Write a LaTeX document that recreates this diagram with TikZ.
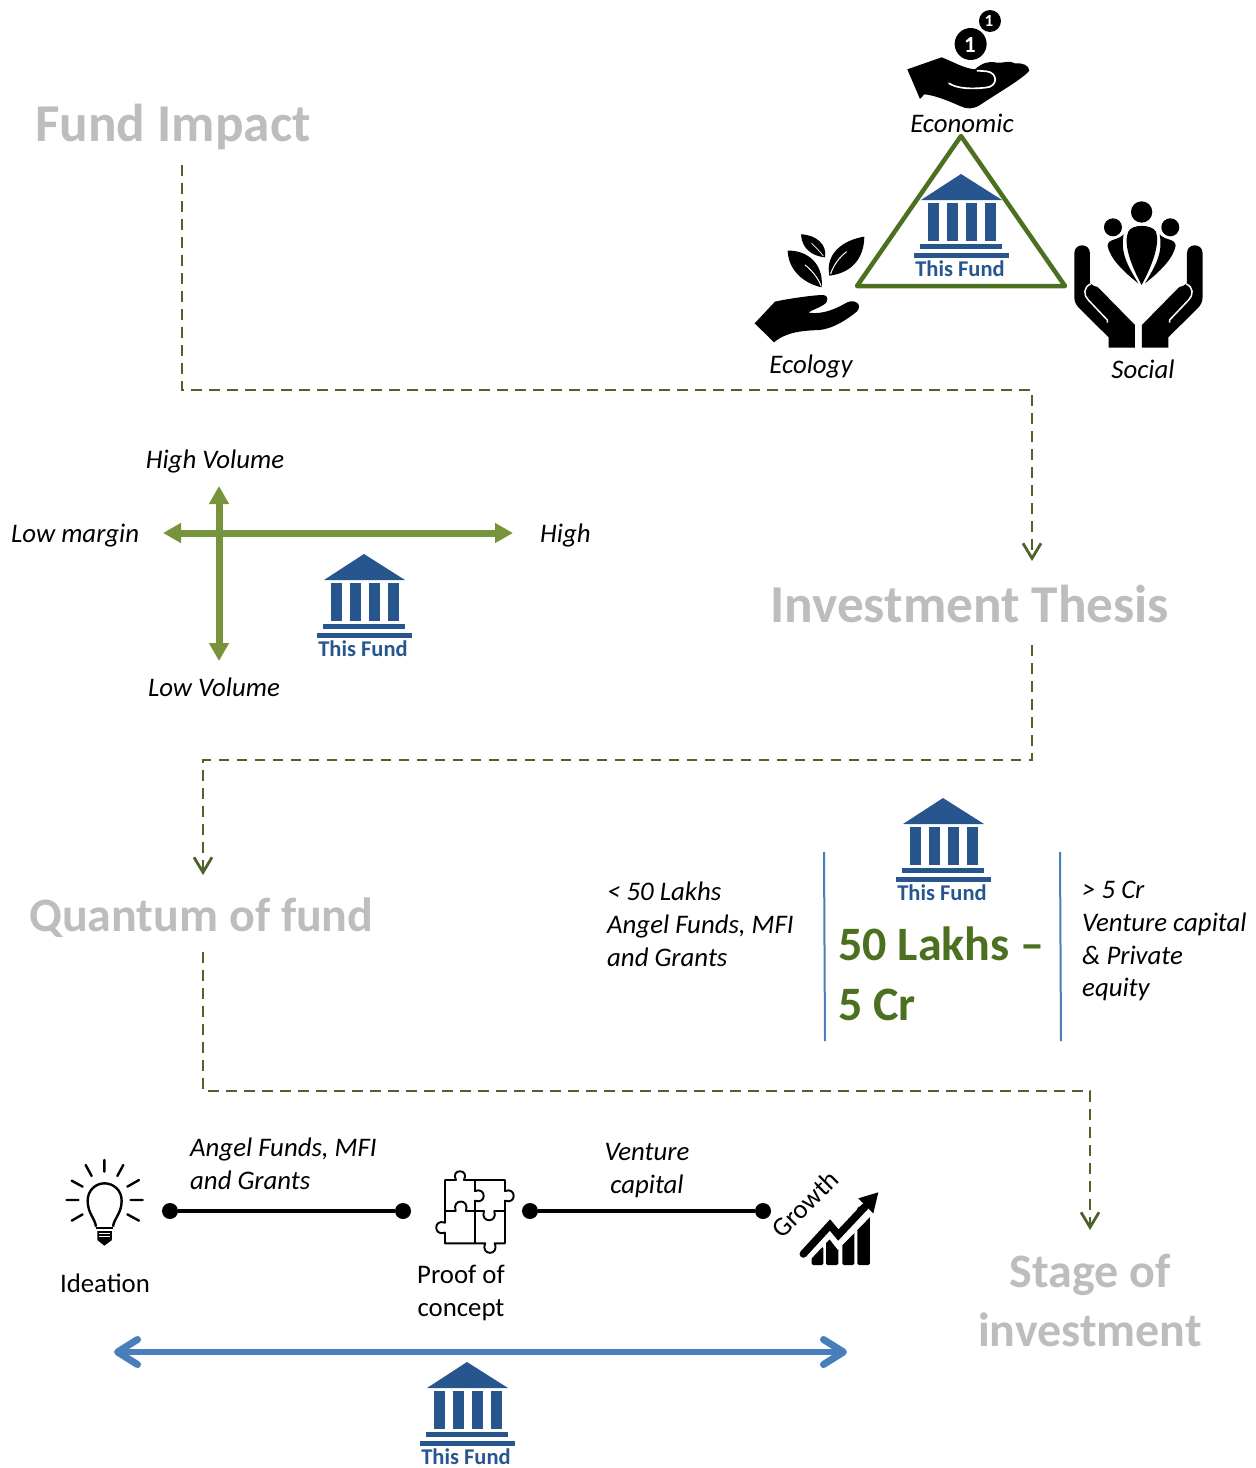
\documentclass[tikz,border=0pt]{standalone}
\usepackage{fontspec}
\setmainfont{Carlito}
\usetikzlibrary{arrows.meta}
\definecolor{bankblue}{HTML}{27568F}
\definecolor{titlegray}{HTML}{BDBDBD}
\definecolor{dashgreen}{HTML}{4F6228}
\definecolor{axisgreen}{HTML}{77933C}
\definecolor{deepgreen}{HTML}{4A7020}
\definecolor{lineblue}{HTML}{4A7EBB}
\tikzset{
  title/.style={inner sep=0pt,text=titlegray,font=\fontsize{53.3}{59}\selectfont\bfseries},
  titlesmall/.style={inner sep=0pt,text=titlegray,font=\fontsize{48}{59}\selectfont\bfseries},
  ital/.style={inner sep=0pt,font=\fontsize{26.8}{32.7}\selectfont\itshape},
  plain/.style={inner sep=0pt,font=\fontsize{26.8}{32.5}\selectfont},
  route/.style={draw=dashgreen,line width=2.8pt,dash pattern=on 10.5pt off 7.5pt,-{Straight Barb[length=15pt,width=18pt,line width=2.8pt]}},
  axis/.style={draw=axisgreen,line width=7pt,{Triangle[length=18pt,width=19pt]}-{Triangle[length=18pt,width=19pt]}},
  stagearrow/.style={draw=lineblue,line width=6pt,{Straight Barb[length=20pt,width=25pt,line width=7pt,round]}-{Straight Barb[length=20pt,width=25pt,line width=7pt,round]}},
  sep/.style={draw=lineblue,line width=2pt},
  seg/.style={draw=black,line width=4pt},
  dot/.style={circle,fill=black,inner sep=0pt,minimum size=16pt},
  bank/.pic={
    \fill[bankblue] (0,0) -- (41,26) -- (-40,26) -- cycle;
    \foreach \cx in {-33.3,-14.3,4.7,23.7} \fill[bankblue] (\cx,29) rectangle ++(11.6,38);
    \fill[bankblue] (-41,70) rectangle (41,75);
    \fill[bankblue] (-47,79) rectangle (48,84);
    \node[inner sep=0pt,text=bankblue,font=\fontsize{22.5}{24}\selectfont\bfseries,anchor=base] (-banktext) at (-1,102) {This Fund};
  }
}
\begin{document}
\begin{tikzpicture}[x=1pt,y=-1pt]
\useasboundingbox (0,0) rectangle (1256,1468);

% titles
\node[title,anchor=base west] (impact) at (35,141) {Fund Impact};
\node[title,anchor=base west] (thesis) at (770,622) {Investment Thesis};
\node[titlesmall,anchor=base west] (quantum) at (29,931) {Quantum of fund};
\node[titlesmall,anchor=base] (stage1) at (1090,1287) {Stage of};
\node[titlesmall,anchor=base] (stage2) at (1090,1346) {investment};

% routes
\coordinate (r1a) at (182,165); \coordinate (r1b) at (182,390); \coordinate (r1c) at (1032,390); \coordinate (r1d) at (1032,561);
\coordinate (r2a) at (1032,645); \coordinate (r2b) at (1032,760); \coordinate (r2c) at (203,760); \coordinate (r2d) at (203,875);
\coordinate (r3a) at (203,952); \coordinate (r3b) at (203,1091); \coordinate (r3c) at (1090,1091); \coordinate (r3d) at (1090,1230);
\draw[route] (r1a) -- (r1b) -- (r1c) -- (r1d);
\draw[route] (r2a) -- (r2b) -- (r2c) -- (r2d);
\draw[route] (r3a) -- (r3b) -- (r3c) -- (r3d);

% triangle
\coordinate (t1) at (961,136); \coordinate (t2) at (857,286); \coordinate (t3) at (1065,286);
\draw[draw=deepgreen,line width=4.5pt,line join=round] (t1) -- (t2) -- (t3) -- cycle;
\pic (b1) at (961,174) {bank};

% icons, in the zoom frame of the top cluster
\begin{scope}[shift={(740,0)},x=0.3333pt,y=-0.3333pt]
  % coins
  \fill (692,132) circle (48);
  \fill (750,63) circle (33);
  \node[text=white,inner sep=0pt,font=\fontsize{23}{23}\selectfont\bfseries] (coin1) at (690,134) {1};
  \node[text=white,inner sep=0pt,font=\fontsize{17}{17}\selectfont\bfseries] (coin2) at (747,64) {1};
  % giving hand
  \fill (502,208) -- (605,172) .. controls (640,185) and (670,205) .. (705,208) .. controls (725,190) and (745,182) .. (770,188) .. controls (790,190) and (810,180) .. (825,190) .. controls (845,188) and (868,195) .. (868,212) .. controls (850,235) and (780,275) .. (720,315) .. controls (700,328) and (680,328) .. (660,318) .. controls (620,300) and (580,285) .. (553,283) -- (540,297) -- cycle;
  \draw[white,line width=1.7pt,line cap=round] (712,212) -- (740,214) .. controls (775,218) and (775,262) .. (735,263) .. controls (690,268) and (650,265) .. (627,250);
  % leaves
  \fill (183,703) .. controls (230,705) and (262,735) .. (255,772) .. controls (212,768) and (185,742) .. (183,703) -- cycle;
  \fill (143,752) .. controls (200,750) and (252,790) .. (245,862) .. controls (190,850) and (145,810) .. (143,752) -- cycle;
  \fill (373,710) .. controls (310,720) and (255,760) .. (268,827) .. controls (330,820) and (372,780) .. (373,710) -- cycle;
  \draw[white,line width=1pt] (195,795) .. controls (215,810) and (235,835) .. (243,858);
  \draw[white,line width=1pt] (320,755) .. controls (300,770) and (280,795) .. (272,822);
  \draw[white,line width=.7pt] (215,730) .. controls (228,742) and (240,755) .. (250,768);
  % ecology hand
  \fill (44,970) -- (105,905) .. controls (150,895) and (225,885) .. (250,885) .. controls (265,885) and (268,905) .. (250,915) .. controls (235,925) and (215,930) .. (205,938) .. controls (250,945) and (290,925) .. (320,908) .. controls (345,895) and (370,915) .. (350,935) .. controls (320,960) and (280,985) .. (240,990) .. controls (190,992) and (140,995) .. (102,1027) -- cycle;
  % people
  \fill (1205,636) circle (32);
  \fill (1119,682) circle (27);
  \fill (1291,682) circle (27);
  \fill (1205,855) .. controls (1170,790) and (1150,730) .. (1165,695) .. controls (1175,672) and (1235,672) .. (1248,695) .. controls (1260,730) and (1240,790) .. (1205,855) -- cycle;
  \fill (1195,850) .. controls (1150,815) and (1110,775) .. (1103,738) .. controls (1103,715) and (1135,722) .. (1151,703) .. controls (1140,760) and (1165,800) .. (1195,850) -- cycle;
  \fill (1215,850) .. controls (1260,815) and (1300,775) .. (1307,738) .. controls (1307,715) and (1275,722) .. (1259,703) .. controls (1270,760) and (1245,800) .. (1215,850) -- cycle;
  % cupped hands
  \foreach \mir/\off in {1/0,-1/2391}{
    \begin{scope}[shift={(\off,0)},xscale=\mir]
      \fill (1003,760) .. controls (1003,728) and (1050,728) .. (1050,760) -- (1050,850) -- (1062,858) .. controls (1070,858) and (1075,862) .. (1080,868) -- (1185,975) -- (1185,1043) -- (1106,1043) -- (1106,1012) -- (1018,925) .. controls (1008,915) and (1003,905) .. (1003,890) -- cycle;
      \draw[white,line width=1.5pt] (1052,852) .. controls (1030,862) and (1030,885) .. (1045,900) -- (1102,960) -- (1102,968);
    \end{scope}
  }
\end{scope}

% triangle labels
\node[ital,anchor=base] (economic) at (962,132) {Economic};
\node[ital,anchor=base] (ecology) at (811,373) {Ecology};
\node[ital,anchor=base] (social) at (1143,378) {Social};

% axes
\coordinate (hl) at (163,533); \coordinate (hr) at (513,533);
\coordinate (vt) at (219,486); \coordinate (vb) at (219,661);
\draw[axis] (hl) -- (hr);
\draw[axis] (vt) -- (vb);
\node[ital,anchor=base] (hivol) at (215,468) {High Volume};
\node[ital,anchor=base] (lovol) at (214,696) {Low Volume};
\node[ital,anchor=base west] (lomar) at (11,542) {Low margin};
\node[ital,anchor=base west] (himar) at (540,542) {High};
\pic (b2) at (364,554) {bank};

% quantum
\pic (b3) at (943,798) {bank};
\coordinate (s1a) at (824,852); \coordinate (s1b) at (825,1041);
\coordinate (s2a) at (1060,852); \coordinate (s2b) at (1061,1041);
\draw[sep] (s1a) -- (s1b);
\draw[sep] (s2a) -- (s2b);
\node[ital,anchor=north west,align=left] (below) at (607,882) {< 50 Lakhs\\Angel Funds, MFI\\and Grants};
\node[ital,anchor=north west,align=left] (above) at (1082,881) {> 5 Cr\\Venture capital\\\& Private\\equity};
\node[inner sep=0pt,text=deepgreen,font=\fontsize{48}{60}\selectfont\bfseries,anchor=north west,align=left] (range) at (838,927) {50 Lakhs –\\5 Cr};

% stages: bulb
\begin{scope}[shift={(40,1130)},x=0.3333pt,y=-0.3333pt]
  \draw[line width=2.4pt,line join=round] (168,290) .. controls (165,265) and (143,250) .. (143,212) .. controls (143,180) and (168,160) .. (193,160) .. controls (220,160) and (245,180) .. (245,212) .. controls (245,250) and (222,265) .. (219,290);
  \draw[line width=2pt] (168,295) -- (219,295);
  \fill (172,303) -- (216,303) -- (216,330) -- (193,347) -- (172,330) -- cycle;
  \foreach \ya in {310,320} \draw[white,line width=.8pt] (178,\ya) -- (210,\ya);
  \draw[line width=2.4pt,line cap=round]
    (193,90) -- (193,125) (137,105) -- (155,138) (250,105) -- (232,138)
    (95,152) -- (128,170) (297,150) -- (262,170) (80,210) -- (115,210)
    (272,210) -- (308,210) (95,272) -- (128,253) (297,272) -- (262,253);
  % puzzle
  \draw[line width=1.9pt,line join=round]
    (1215,150) -- (1248,150) .. controls (1230,115) and (1290,115) .. (1272,150) -- (1395,150) -- (1395,183)
    .. controls (1430,170) and (1430,225) .. (1395,212) -- (1395,340) -- (1364,340)
    .. controls (1380,378) and (1320,378) .. (1336,340) -- (1215,340) -- (1215,308)
    .. controls (1180,320) and (1180,265) .. (1215,278) -- cycle;
  \draw[line width=1.9pt,line join=round]
    (1305,150) -- (1305,183) .. controls (1340,170) and (1340,225) .. (1305,212) -- (1305,340)
    (1215,243) -- (1247,243) .. controls (1235,205) and (1290,205) .. (1278,243) -- (1332,243)
    .. controls (1320,280) and (1375,280) .. (1363,243) -- (1395,243);
\end{scope}
\begin{scope}[shift={(750,1150)},x=0.3333pt,y=-0.3333pt]
  \fill[rounded corners=1.5pt] (185,345) rectangle (220,290);
  \fill[rounded corners=1.5pt] (228,345) rectangle (265,240);
  \fill[rounded corners=1.5pt] (277,345) rectangle (313,240);
  \fill[rounded corners=1.5pt] (322,345) rectangle (360,170);
  \draw[white,line width=12pt,line join=miter] (160,325) -- (240,240) -- (265,272) -- (360,175);
  \draw[line width=7.5pt,line join=miter,line cap=round] (160,312) -- (240,225) -- (265,255) -- (345,170);
  \fill (385,127) -- (325,145) -- (370,190) -- cycle;
\end{scope}

\node[plain,anchor=base] (ideation) at (105,1292) {Ideation};
\node[plain,anchor=north,align=center] (proof) at (461,1265) {Proof of\\concept};
\node[ital,anchor=north west,align=left] (angel) at (190,1138) {Angel Funds, MFI\\and Grants};
\node[ital,anchor=north,align=center] (vc) at (647,1143) {Venture\\capital};
\node[plain,rotate=45,anchor=center] (growth) at (805,1204) {Growth};

\node[dot] (d1) at (170,1211) {};
\node[dot] (d2) at (403,1211) {};
\node[dot] (d3) at (530,1211) {};
\node[dot] (d4) at (763,1211) {};
\draw[seg] (d1) -- (d2);
\draw[seg] (d3) -- (d4);

\coordinate (bl) at (114,1352); \coordinate (br) at (847,1352);
\draw[stagearrow] (bl) -- (br);
\pic (b4) at (467,1362) {bank};
\end{tikzpicture}
\end{document}
